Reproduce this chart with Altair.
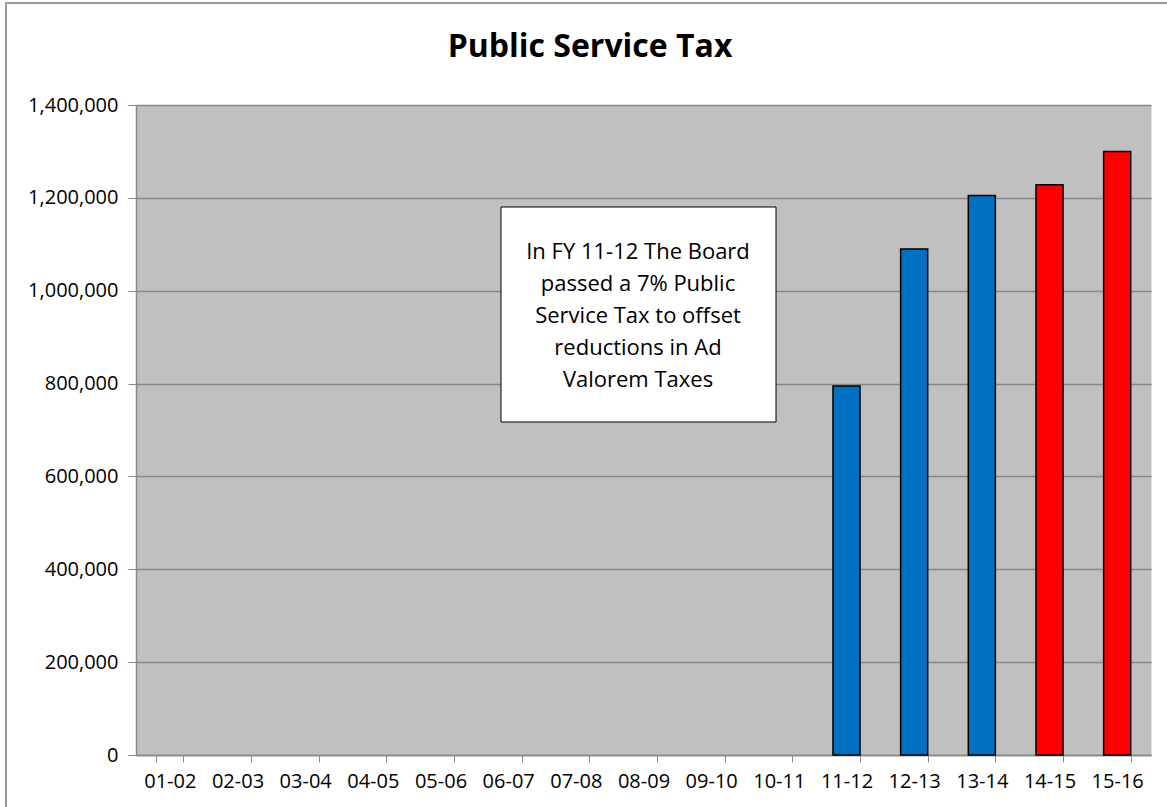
import altair as alt
import pandas as pd

years = ["01-02", "02-03", "03-04", "04-05", "05-06", "06-07", "07-08", "08-09",
         "09-10", "10-11", "11-12", "12-13", "13-14", "14-15", "15-16"]
values = [None, None, None, None, None, None, None, None,
          None, None, 795000, 1090000, 1205000, 1228000, 1300000]
status = ["Actual"] * 13 + ["Projected"] * 2
status_names = ["Actual", "Projected"]
status_colors = ["#0070C0", "#FF0000"]
y_ticks = [0, 200000, 400000, 600000, 800000, 1000000, 1200000, 1400000]
note_lines = ["In FY 11-12 The Board", "passed a 7% Public", "Service Tax to offset",
              "reductions in Ad", "Valorem Taxes"]
title_text = "Public Service Tax"

df = pd.DataFrame({"year": years, "value": values, "status": status})
bars_df = df.dropna(subset=["value"])

FONT = "Open Sans"
W, H = 1015, 650

x = alt.X("year:N", sort=years,
          scale=alt.Scale(domain=years, paddingInner=0.6, paddingOuter=0.3),
          axis=alt.Axis(title=None, labelAngle=0, tickBand="extent", labelFontSize=20,
                        labelFont=FONT, labelColor="#000000", labelPadding=9,
                        domainColor="#888888", tickColor="#888888", tickSize=7,
                        domainWidth=1.5, grid=False))
y = alt.Y("value:Q", scale=alt.Scale(domain=[0, 1400000], nice=False),
          axis=alt.Axis(title=None, values=y_ticks, format=",d", labelFontSize=20,
                        labelFont=FONT, labelColor="#000000", labelPadding=10,
                        domainColor="#888888", tickColor="#888888", tickSize=8,
                        domainWidth=1.5, grid=True, gridColor="#868686", gridWidth=1.5))

bars = alt.Chart(bars_df).mark_bar(stroke="#000000", strokeWidth=1.5).encode(
    x=x, y=y,
    color=alt.Color("status:N", scale=alt.Scale(domain=status_names, range=status_colors),
                    legend=None),
)

note_df = pd.DataFrame({"note": ["\n".join(note_lines)], "title": [title_text]})
box = alt.Chart(note_df).mark_rect(fill="#FFFFFF", stroke="#000000", strokeWidth=1).encode(
    x=alt.value(365), x2=alt.value(640), y=alt.value(102), y2=alt.value(317))
note = alt.Chart(note_df).mark_text(font=FONT, fontSize=22, lineBreak="\n", lineHeight=32,
                                    align="center", baseline="middle", color="#000000").encode(
    x=alt.value(502), y=alt.value(147), text="note:N")
title = alt.Chart(note_df).mark_text(font=FONT, fontSize=32, fontWeight="bold",
                                     align="center", baseline="alphabetic",
                                     color="#000000").encode(
    x=alt.value(454), y=alt.value(-48), text="title:N")

frame = alt.Chart(note_df).mark_rect(fill="transparent", stroke="#999999", strokeWidth=2).encode(
    x=alt.value(-130), x2=alt.value(1100), y=alt.value(-102), y2=alt.value(800))

chart = alt.layer(frame, bars, box, note, title).properties(
    width=W, height=H,
    autosize=alt.AutoSizeParams(type="none"),
    padding={"left": 136, "top": 105, "right": 16, "bottom": 52},
    background="#FFFFFF",
).configure_view(fill="#C0C0C0", stroke="transparent")

chart.save("out.html", embed_options={"renderer": "svg", "actions": False})
